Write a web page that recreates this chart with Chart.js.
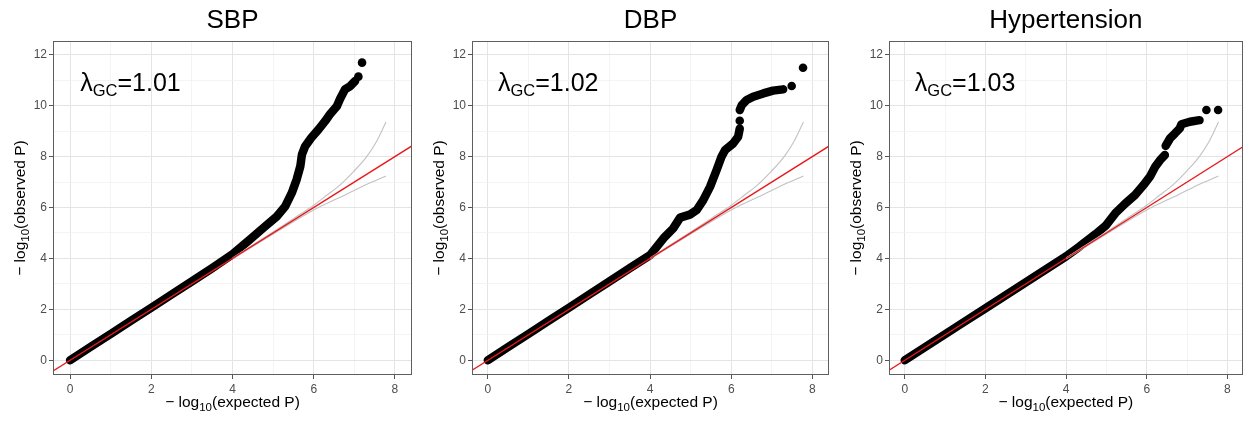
<!DOCTYPE html>
<html>
<head>
<meta charset="utf-8">
<script src="https://cdn.jsdelivr.net/npm/chart.js@4/dist/chart.umd.min.js"></script>
<style>
  html, body { margin: 0; padding: 0; background: #fff; }
  #wrap { position: relative; width: 1247px; height: 422px; overflow: hidden; background: #fff; }
  #wrap canvas { position: absolute; top: 0; }
</style>
</head>
<body>
<div id="wrap"></div>
<script>
// ---- Panel labels ----
const titles = ['SBP', 'DBP', 'Hypertension'];
const lambdaValues = ['1.01', '1.02', '1.03'];

// ---- Axis ticks ----
const xTickValues = [0, 2, 4, 6, 8];
const xMinorValues = [1, 3, 5, 7];
const yTickValues = [0, 2, 4, 6, 8, 10, 12];
const yMinorValues = [1, 3, 5, 7, 9, 11];
const xRanges = [[-0.42, 8.42], [-0.39, 8.41], [-0.39, 8.38]];
const yRange = [-0.58, 12.54];

// ---- SBP: -log10 expected vs observed P ----
const sbpExpected = [0, 0.5, 1, 1.5, 2, 2.5, 3, 3.5, 4, 4.43, 4.76, 5.09, 5.30, 5.46, 5.58, 5.67, 5.71, 5.79, 5.94, 6.12, 6.28, 6.40, 6.57, 6.65, 6.77, 6.90, 7.02];
const sbpObserved = [0, 0.52, 1.03, 1.55, 2.06, 2.58, 3.10, 3.62, 4.16, 4.74, 5.20, 5.65, 6.05, 6.57, 7.10, 7.62, 8.08, 8.41, 8.74, 9.07, 9.39, 9.66, 9.98, 10.27, 10.64, 10.77, 10.97];
const sbpTopExpected = [7.10, 7.19];
const sbpTopObserved = [11.14, 11.69];

// ---- DBP ----
const dbpExpected = [0, 0.5, 1, 1.5, 2, 2.5, 3, 3.5, 4, 4.33, 4.57, 4.74, 4.98, 5.15, 5.31, 5.48, 5.64, 5.76, 5.85, 6.05, 6.17, 6.21, 6.21, 6.21, 6.26, 6.38, 6.54, 6.79, 7.03, 7.28];
const dbpObserved = [0, 0.52, 1.03, 1.55, 2.06, 2.58, 3.10, 3.62, 4.13, 4.79, 5.18, 5.60, 5.72, 5.90, 6.29, 6.82, 7.47, 7.99, 8.26, 8.52, 8.78, 9.10, null, 9.83, 10.02, 10.22, 10.35, 10.48, 10.59, 10.64];
const dbpTopExpected = [6.21, 7.49, 7.77];
const dbpTopObserved = [9.41, 10.77, 11.49];

// ---- Hypertension ----
const htnExpected = [0, 0.5, 1, 1.5, 2, 2.5, 3, 3.5, 4, 4.32, 4.73, 4.98, 5.22, 5.47, 5.71, 5.92, 6.08, 6.21, 6.33, 6.45, 6.45, 6.47, 6.58, 6.70, 6.82, 6.86, 7.07, 7.31];
const htnObserved = [0, 0.51, 1.02, 1.53, 2.04, 2.55, 3.06, 3.57, 4.08, 4.45, 4.95, 5.28, 5.77, 6.16, 6.49, 6.88, 7.21, 7.60, 7.86, 8.06, null, 8.42, 8.72, 8.91, 9.11, 9.27, 9.37, 9.43];
const htnTopExpected = [7.48, 7.77];
const htnTopObserved = [9.83, 9.83];

// ---- 95% confidence band and null line ----
const ciUpperExpected = [4.0, 5.0, 5.5, 5.99, 6.32, 6.65, 6.98, 7.31, 7.55, 7.78];
const ciUpper = [4.02, 5.04, 5.56, 6.08, 6.48, 6.89, 7.41, 8.01, 8.60, 9.36];
const ciLowerExpected = [4.0, 5.0, 5.5, 5.90, 6.15, 6.57, 6.98, 7.39, 7.78];
const ciLower = [3.98, 4.96, 5.44, 5.81, 6.03, 6.34, 6.66, 6.97, 7.24];
const nullLine = [-1, 9];

const seriesExpected = [sbpExpected, dbpExpected, htnExpected];
const seriesObserved = [sbpObserved, dbpObserved, htnObserved];
const topExpected = [sbpTopExpected, dbpTopExpected, htnTopExpected];
const topObserved = [sbpTopObserved, dbpTopObserved, htnTopObserved];

// canvas placement and plot-area edges (px)
const layoutBoxes = [
  { left: 0,   width: 420, plotLeft: 53, plotRight: 412 },
  { left: 420, width: 420, plotLeft: 52, plotRight: 409 },
  { left: 836, width: 411, plotLeft: 53, plotRight: 409 }
];
const H = 422, PLOT_TOP = 41, PLOT_BOTTOM = 375;
const FONT = '"Liberation Sans", Arial, Helvetica, sans-serif';

function pts(xs, ys) { return xs.map((x, i) => ({ x: x, y: ys[i] })); }

function runsWidth(ctx, runs) {
  let w = 0;
  runs.forEach(r => { ctx.font = r.size + 'px ' + FONT; w += ctx.measureText(r.t).width; });
  return w;
}
function drawRuns(ctx, runs, x, y) {
  runs.forEach(r => {
    ctx.font = r.size + 'px ' + FONT;
    ctx.fillText(r.t, x, y + (r.dy || 0));
    x += ctx.measureText(r.t).width;
  });
}

const panelDecor = {
  id: 'panelDecor',
  afterDraw(chart, args, opts) {
    const ctx = chart.ctx;
    const a = chart.chartArea;
    ctx.save();
    // panel border
    ctx.strokeStyle = '#5e5e5e';
    ctx.lineWidth = 1;
    ctx.strokeRect(Math.round(a.left) + 0.5, Math.round(a.top) + 0.5,
                   Math.round(a.right - a.left) - 1, Math.round(a.bottom - a.top) - 1);

    ctx.fillStyle = '#000';
    ctx.textBaseline = 'alphabetic';
    // title
    ctx.font = '26px ' + FONT;
    ctx.textAlign = 'center';
    ctx.fillText(opts.title, (a.left + a.right) / 2, 28);
    ctx.textAlign = 'left';

    // x axis title
    const xRuns = [
      { t: '\u2212 log', size: 15.5 },
      { t: '10', size: 11.5, dy: 4 },
      { t: '(expected P)', size: 15.5 }
    ];
    const xw = runsWidth(ctx, xRuns);
    drawRuns(ctx, xRuns, (a.left + a.right) / 2 - xw / 2, 407);

    // y axis title
    const yRuns = [
      { t: '\u2212 log', size: 15.5 },
      { t: '10', size: 11.5, dy: 4 },
      { t: '(observed P)', size: 15.5 }
    ];
    const yw = runsWidth(ctx, yRuns);
    ctx.save();
    ctx.translate(a.left - 28, (a.top + a.bottom) / 2);
    ctx.rotate(-Math.PI / 2);
    drawRuns(ctx, yRuns, -yw / 2, 0);
    ctx.restore();

    // genomic inflation factor
    const sx = chart.scales.x, sy = chart.scales.y;
    drawRuns(ctx, [
      { t: '\u03bb', size: 25 },
      { t: 'GC', size: 16.5, dy: 5 },
      { t: '=' + opts.lambda, size: 25 }
    ], sx.getPixelForValue(0.25), sy.getPixelForValue(10.58));
    ctx.restore();
  }
};

titles.forEach((title, i) => {
  const box = layoutBoxes[i];
  const canvas = document.createElement('canvas');
  canvas.width = box.width;
  canvas.height = H;
  canvas.style.left = box.left + 'px';
  canvas.style.width = box.width + 'px';
  canvas.style.height = H + 'px';
  document.getElementById('wrap').appendChild(canvas);

  const xTicksAll = xTickValues.concat(xMinorValues).sort((p, q) => p - q);
  const yTicksAll = yTickValues.concat(yMinorValues).sort((p, q) => p - q);
  const isMajorX = v => xTickValues.indexOf(v) >= 0;
  const isMajorY = v => yTickValues.indexOf(v) >= 0;

  new Chart(canvas, {
    type: 'scatter',
    data: {
      datasets: [
        { data: pts(nullLine, nullLine), showLine: true, borderColor: '#e8191a', borderWidth: 1.3,
          pointRadius: 0, order: 0 },
        { data: pts(ciUpperExpected, ciUpper), showLine: true, borderColor: '#c2c2c2', borderWidth: 1.1,
          pointRadius: 0, cubicInterpolationMode: 'monotone', order: 1 },
        { data: pts(ciLowerExpected, ciLower), showLine: true, borderColor: '#c2c2c2', borderWidth: 1.1,
          pointRadius: 0, cubicInterpolationMode: 'monotone', order: 1 },
        { data: pts(seriesExpected[i], seriesObserved[i]), showLine: true, spanGaps: false,
          borderColor: '#000', borderWidth: 8.5, borderCapStyle: 'round', borderJoinStyle: 'round',
          pointRadius: 0, order: 2 },
        { data: pts(topExpected[i], topObserved[i]), showLine: false, backgroundColor: '#000',
          borderWidth: 0, pointRadius: 4.3, order: 2 }
      ]
    },
    options: {
      responsive: false,
      animation: false,
      events: [],
      layout: { padding: { top: PLOT_TOP, right: box.width - box.plotRight, left: 0, bottom: 0 } },
      scales: {
        x: {
          type: 'linear',
          min: xRanges[i][0], max: xRanges[i][1],
          afterBuildTicks: s => { s.ticks = xTicksAll.map(v => ({ value: v })); },
          afterFit: s => { s.height = H - PLOT_BOTTOM; },
          border: { display: false },
          grid: {
            color: c => isMajorX(c.tick.value) ? '#e4e4e4' : '#f1f1f1',
            lineWidth: c => isMajorX(c.tick.value) ? 1 : 0.8,
            tickColor: c => isMajorX(c.tick.value) ? '#555' : 'rgba(0,0,0,0)',
            tickLength: 4
          },
          ticks: {
            autoSkip: false, maxRotation: 0,
            padding: 3,
            color: '#4d4d4d',
            font: { family: FONT, size: 12 },
            callback: v => isMajorX(v) ? String(v) : ''
          }
        },
        y: {
          type: 'linear',
          min: yRange[0], max: yRange[1],
          afterBuildTicks: s => { s.ticks = yTicksAll.map(v => ({ value: v })); },
          afterFit: s => { s.width = box.plotLeft; },
          border: { display: false },
          grid: {
            color: c => isMajorY(c.tick.value) ? '#e4e4e4' : '#f1f1f1',
            lineWidth: c => isMajorY(c.tick.value) ? 1 : 0.8,
            tickColor: c => isMajorY(c.tick.value) ? '#555' : 'rgba(0,0,0,0)',
            tickLength: 4
          },
          ticks: {
            autoSkip: false,
            padding: 2,
            color: '#4d4d4d',
            font: { family: FONT, size: 12 },
            callback: v => isMajorY(v) ? String(v) : ''
          }
        }
      },
      plugins: {
        legend: { display: false },
        tooltip: { enabled: false },
        title: { display: false },
        panelDecor: { title: title, lambda: lambdaValues[i] }
      }
    },
    plugins: [panelDecor]
  });
});
</script>
</body>
</html>
